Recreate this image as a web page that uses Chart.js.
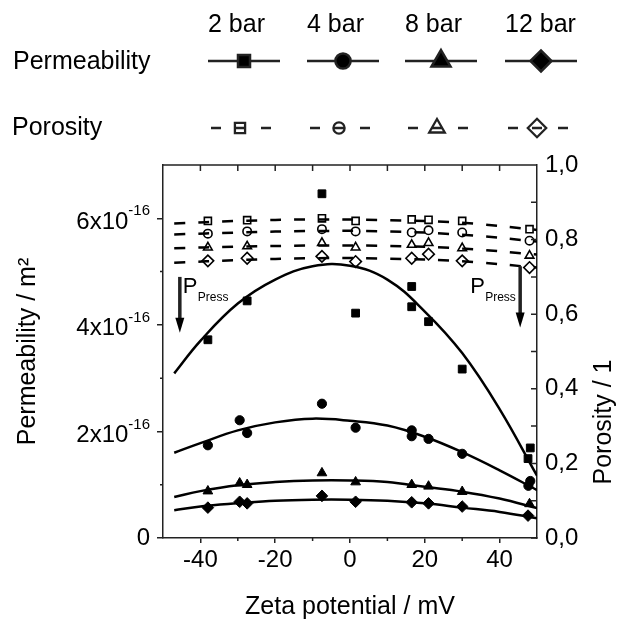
<!DOCTYPE html>
<html>
<head>
<meta charset="utf-8">
<script src="https://cdn.jsdelivr.net/npm/chart.js@4/dist/chart.umd.min.js"></script>
<style>
  html, body { margin: 0; padding: 0; background: #fff; }
  canvas { display: block; }
</style>
</head>
<body>
<canvas id="chart" width="620" height="620"></canvas>
<script>
const FONT = 'Arial, "Liberation Sans", sans-serif';

const pressures = ["2 bar", "4 bar", "8 bar", "12 bar"];

// measured permeability, in units of 1e-16 m2, against zeta potential (mV)
const zeta2 = [-38, -27.5, -7.5, 1.5, 16.5, 16.5, 21, 30, 48.2, 47.6];
const perm2 = [3.72, 4.45, 6.46, 4.22, 4.72, 4.34, 4.06, 3.17, 1.69, 1.49];
const zeta4 = [-38, -29.5, -27.5, -7.5, 1.5, 16.5, 16.5, 21, 30, 48.2, 47.7];
const perm4 = [1.74, 2.21, 1.97, 2.52, 2.07, 2.02, 1.91, 1.86, 1.58, 1.07, 0.98];
const zeta8 = [-38, -29.5, -27.5, -7.5, 1.5, 16.5, 21, 30, 48];
const perm8 = [0.88, 1.03, 1.00, 1.22, 1.05, 1.00, 0.97, 0.87, 0.64];
const zeta12 = [-38, -29.5, -27.5, -7.5, 1.5, 16.5, 21, 30, 47.6];
const perm12 = [0.57, 0.68, 0.65, 0.79, 0.68, 0.67, 0.65, 0.59, 0.42];

// fitted permeability curves
const fitZeta = [-47, -40, -30, -20, -10, 0, 10, 20, 30, 40, 50];
const fit2 = [3.09, 3.70, 4.40, 4.85, 5.10, 5.11, 4.85, 4.25, 3.47, 2.42, 1.17];
const fit4 = [1.60, 1.78, 2.02, 2.17, 2.24, 2.20, 2.11, 1.90, 1.61, 1.27, 0.90];
const fit8 = [0.77, 0.88, 0.99, 1.05, 1.08, 1.08, 1.05, 0.96, 0.87, 0.74, 0.56];
const fit12 = [0.52, 0.59, 0.65, 0.70, 0.72, 0.72, 0.70, 0.65, 0.57, 0.49, 0.37];

// measured porosity
const porZeta = [-38, -27.5, -7.5, 1.5, 16.5, 21, 30, 48];
const por2 = [0.850, 0.852, 0.857, 0.850, 0.854, 0.853, 0.850, 0.828];
const por4 = [0.816, 0.822, 0.828, 0.822, 0.819, 0.825, 0.819, 0.797];
const por8 = [0.779, 0.782, 0.791, 0.779, 0.786, 0.791, 0.777, 0.757];
const por12 = [0.743, 0.750, 0.755, 0.741, 0.750, 0.761, 0.743, 0.725];

// fitted porosity curves
const porFitZeta = [-47, -30, -10, 10, 30, 50];
const porFit2 = [0.843, 0.850, 0.854, 0.852, 0.845, 0.826];
const porFit4 = [0.814, 0.819, 0.823, 0.822, 0.813, 0.795];
const porFit8 = [0.777, 0.781, 0.784, 0.783, 0.776, 0.760];
const porFit12 = [0.738, 0.745, 0.750, 0.749, 0.742, 0.725];

// axes
const xTicks = [-40, -20, 0, 20, 40];
const xMinor = [-30, -10, 10, 30];
const yTicks = [0, 2, 4, 6];
const yTickLabels = ["0", "2x10", "4x10", "6x10"];
const yTickExp = ["", "-16", "-16", "-16"];
const yMinor = [1, 3, 5];
const y2Ticks = [0, 0.2, 0.4, 0.6, 0.8, 1.0];
const y2Minor = [0.1, 0.3, 0.5, 0.7, 0.9];

// pressing direction arrows (zeta, top, tip in 1e-16 m2)
const pressArrows = [
  { x: -45.5, from: 4.9, to: 3.85 },
  { x: 45.5, from: 5.1, to: 3.95 }
];

const markers = ["rect", "circle", "triangle", "rectRot"];
const permRadius = [5.5, 4.6, 5.6, 5.8];
const porRadius = [5, 4.2, 5, 5.8];

const permZeta = [zeta2, zeta4, zeta8, zeta12];
const permVals = [perm2, perm4, perm8, perm12];
const permFits = [fit2, fit4, fit8, fit12];
const porVals = [por2, por4, por8, por12];
const porFits = [porFit2, porFit4, porFit8, porFit12];

const pts = (xs, ys) => xs.map((x, i) => ({ x: x, y: ys[i] }));
const black = "#000";
const axisColor = "#222";

const datasets = [];
pressures.forEach((p, i) => {
  datasets.push({
    label: "Permeability " + p,
    data: pts(permZeta[i], permVals[i]),
    yAxisID: "y",
    showLine: false,
    pointStyle: markers[i],
    pointRadius: permRadius[i],
    backgroundColor: black,
    borderColor: black,
    borderWidth: 1,
    order: 0
  });
  datasets.push({
    label: "Porosity " + p,
    data: pts(porZeta, porVals[i]),
    yAxisID: "y2",
    showLine: false,
    pointStyle: markers[i],
    pointRadius: porRadius[i],
    backgroundColor: "rgba(0,0,0,0)",
    borderColor: black,
    borderWidth: 1.6,
    order: 1
  });
  datasets.push({
    label: "Permeability fit " + p,
    data: pts(fitZeta, permFits[i]),
    yAxisID: "y",
    pointRadius: 0,
    borderColor: black,
    borderWidth: 2.5,
    tension: 0.4,
    fill: false,
    order: 2
  });
  datasets.push({
    label: "Porosity fit " + p,
    data: pts(porFitZeta, porFits[i]),
    yAxisID: "y2",
    pointRadius: 0,
    borderColor: black,
    borderWidth: 2.5,
    borderDash: [11, 13],
    tension: 0.4,
    fill: false,
    order: 3
  });
});

// minor / inward ticks, top frame line, labels drawn by hand
const frame = {
  id: "frame",
  afterDraw(chart) {
    const { ctx, chartArea: a, scales } = chart;
    const x = scales.x, y = scales.y, y2 = scales.y2;
    ctx.save();
    ctx.strokeStyle = axisColor;
    ctx.lineWidth = 1.5;
    ctx.beginPath();
    ctx.moveTo(a.left, a.top);
    ctx.lineTo(a.right, a.top);
    xMinor.forEach(v => {
      const px = x.getPixelForValue(v);
      ctx.moveTo(px, a.bottom);
      ctx.lineTo(px, a.bottom + 3);
    });
    xTicks.concat(xMinor).forEach(v => {
      const px = x.getPixelForValue(v);
      ctx.moveTo(px, a.top);
      ctx.lineTo(px, a.top + 6);
    });
    yMinor.forEach(v => {
      const py = y.getPixelForValue(v);
      ctx.moveTo(a.left, py);
      ctx.lineTo(a.left - 3, py);
    });
    y2Ticks.concat(y2Minor).forEach(v => {
      const py = y2.getPixelForValue(v);
      ctx.moveTo(a.right, py);
      ctx.lineTo(a.right - 6, py);
    });
    ctx.stroke();

    // left tick labels with exponent
    ctx.fillStyle = black;
    ctx.textBaseline = "middle";
    yTicks.forEach((v, i) => {
      const py = y.getPixelForValue(v);
      const right = 150;
      if (!yTickExp[i]) {
        ctx.font = "24px " + FONT;
        ctx.textAlign = "right";
        ctx.fillText(yTickLabels[i], right, py);
        return;
      }
      ctx.font = "15px " + FONT;
      const w = ctx.measureText(yTickExp[i]).width;
      ctx.textAlign = "left";
      ctx.fillText(yTickExp[i], right - w, py - 7);
      ctx.font = "24px " + FONT;
      ctx.textAlign = "right";
      ctx.fillText(yTickLabels[i], right - w, py + 4);
    });

    // right axis title, reading upwards
    ctx.save();
    ctx.translate(604, 422);
    ctx.rotate(-Math.PI / 2);
    ctx.font = "25px " + FONT;
    ctx.textAlign = "center";
    ctx.fillText("Porosity / 1", 0, 0);
    ctx.restore();

    // P_Press arrows
    pressArrows.forEach((ar, i) => {
      const px = x.getPixelForValue(ar.x);
      const top = y.getPixelForValue(ar.from);
      const tip = y.getPixelForValue(ar.to);
      ctx.lineWidth = 3.5;
      ctx.beginPath();
      ctx.moveTo(px, top);
      ctx.lineTo(px, tip - 12);
      ctx.stroke();
      ctx.beginPath();
      ctx.moveTo(px - 4.5, tip - 15);
      ctx.lineTo(px + 4.5, tip - 15);
      ctx.lineTo(px, tip);
      ctx.closePath();
      ctx.fill();
      const tx = i === 0 ? px + 3 : px - 50;
      ctx.textAlign = "left";
      ctx.textBaseline = "alphabetic";
      ctx.font = "22px " + FONT;
      ctx.fillText("P", tx, 293);
      ctx.font = "12px " + FONT;
      ctx.fillText("Press", tx + 15, 301);
    });

    // legend
    const starts = [208, 307, 405, 505];
    ctx.font = "25px " + FONT;
    ctx.textAlign = "left";
    ctx.textBaseline = "middle";
    ctx.fillText("Permeability", 13, 62);
    ctx.fillText("Porosity", 12, 128);
    pressures.forEach((p, i) => {
      const sx = starts[i];
      ctx.fillStyle = black;
      ctx.fillText(p, sx, 25);
      ctx.lineWidth = 2.5;
      ctx.setLineDash([]);
      ctx.beginPath();
      ctx.moveTo(sx, 61);
      ctx.lineTo(sx + 72, 61);
      ctx.moveTo(sx + 3, 128);
      ctx.lineTo(sx + 13, 128);
      ctx.moveTo(sx + 27, 128);
      ctx.lineTo(sx + 37, 128);
      ctx.moveTo(sx + 53, 128);
      ctx.lineTo(sx + 63, 128);
      ctx.stroke();
      const bigR = [8.5, 7.6, 11, 10.5][i];
      ctx.fillStyle = black;
      Chart.helpers.drawPoint(ctx, { pointStyle: markers[i], radius: bigR, rotation: 0, borderWidth: 1 }, sx + 36, 61);
      const openR = [7.2, 5.6, 9, 9.2][i];
      ctx.fillStyle = "rgba(0,0,0,0)";
      ctx.lineWidth = 2.3;
      Chart.helpers.drawPoint(ctx, { pointStyle: markers[i], radius: openR, rotation: 0, borderWidth: 2.3 }, sx + 32, 128);
    });
    ctx.restore();
  }
};

new Chart(document.getElementById("chart").getContext("2d"), {
  type: "line",
  data: { datasets: datasets },
  options: {
    responsive: false,
    animation: false,
    events: [],
    layout: { padding: { top: 165, left: 0, right: 0, bottom: 0 } },
    plugins: { legend: { display: false }, tooltip: { enabled: false } },
    scales: {
      x: {
        type: "linear",
        position: "bottom",
        min: -50,
        max: 50,
        afterFit: s => { s.height = 82; },
        afterBuildTicks: s => { s.ticks = xTicks.map(v => ({ value: v })); },
        ticks: { font: { family: FONT, size: 24 }, color: black, padding: 3, maxRotation: 0, autoSkip: false },
        grid: { drawOnChartArea: false, drawTicks: true, tickLength: 5, color: axisColor, lineWidth: 1.5 },
        border: { color: axisColor, width: 1.5 },
        title: { display: true, text: "Zeta potential / mV", color: black, font: { family: FONT, size: 25, lineHeight: 1 }, padding: { top: 0, bottom: 0 } }
      },
      y: {
        type: "linear",
        position: "left",
        min: 0,
        max: 7,
        afterFit: s => { s.width = 163; },
        afterBuildTicks: s => { s.ticks = yTicks.map(v => ({ value: v })); },
        ticks: { callback: () => "", font: { family: FONT, size: 24 } },
        grid: { drawOnChartArea: false, drawTicks: true, tickLength: 6, color: axisColor, lineWidth: 1.5 },
        border: { color: axisColor, width: 1.5 },
        title: { display: true, text: "Permeability / m²", color: black, font: { family: FONT, size: 25, lineHeight: 1 }, padding: { top: 16, bottom: 0 } }
      },
      y2: {
        type: "linear",
        position: "right",
        min: 0,
        max: 1,
        afterFit: s => { s.width = 83; },
        afterBuildTicks: s => { s.ticks = y2Ticks.map(v => ({ value: v })); },
        ticks: { callback: v => v.toFixed(1).replace(".", ","), font: { family: FONT, size: 24 }, color: black, padding: 8 },
        grid: { drawOnChartArea: false, drawTicks: false },
        border: { color: axisColor, width: 1.5 }
      }
    }
  },
  plugins: [frame]
});
</script>
</body>
</html>
